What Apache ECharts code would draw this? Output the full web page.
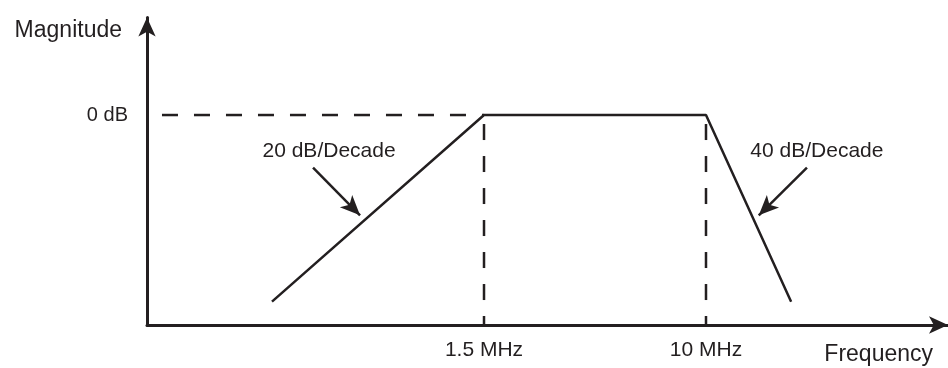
<!DOCTYPE html>
<html>
<head>
<meta charset="utf-8">
<script src="https://cdn.jsdelivr.net/npm/echarts@6/dist/echarts.min.js"></script>
<style>
  html, body { margin: 0; padding: 0; background: #fff; }
  #chart { width: 948px; height: 368px; }
</style>
</head>
<body>
<div id="chart"></div>
<script>
// frequency in MHz (log axis), magnitude in dB
const responseFreq = [0.245, 1.5, 10, 20.7]
const responseDb = [-16, 0, 0, -16]
const cornerFreq = [1.5, 10]
const cornerLabels = ['1.5 MHz', '10 MHz']
const refStartFreq = 0.0957 // 0 dB guide starts a little right of the axis
const slopeLabels = ['20 dB/Decade', '40 dB/Decade']
const slopeLabelFreq = [0.399, 25.8]
const slopeLabelDb = [-3.1, -3.1]
const arrowFrom = [[0.348, -4.5], [23.7, -4.5]]
const arrowTo = [[0.52, -8.6], [15.7, -8.6]]
const yTickLabels = { 0: '0 dB' }
const freqMin = 0.0842, freqMax = 79.1
const dbMin = -18, dbMax = 8.36

const ink = '#231f20'
const font = "'Liberation Sans', Arial, sans-serif"

var myChart = echarts.init(document.getElementById('chart'))

const dashed = {
  color: ink,
  width: 2.5,
  type: [16, 16]
}

let series = [
  // 响应曲线
  {
    type: 'line',
    data: responseFreq.map((f, i) => [f, responseDb[i]]),
    showSymbol: false,
    lineStyle: { color: ink, width: 2.5 },
    z: 5
  },
  // 0 dB 虚线
  {
    type: 'line',
    data: [[refStartFreq, 0], [cornerFreq[0], 0]],
    showSymbol: false,
    lineStyle: dashed
  }
]
cornerFreq.forEach((f) => {
  series.push({
    type: 'line',
    data: [[f, 0], [f, dbMin]],
    showSymbol: false,
    lineStyle: Object.assign({}, dashed, { dashOffset: 23 })
  })
})
// 频率标注
series.push({
  type: 'scatter',
  symbolSize: 0,
  itemStyle: { opacity: 1 },
  data: cornerFreq.map((f, i) => ({ name: cornerLabels[i], value: [f, dbMin] })),
  label: {
    show: true,
    position: 'bottom',
    distance: 15,
    formatter: '{b}',
    color: ink,
    fontFamily: font,
    fontSize: 21
  }
})
// 斜率标注 + 箭头
series.push({
  type: 'scatter',
  symbolSize: 0,
  itemStyle: { opacity: 1 },
  data: slopeLabels.map((s, i) => ({ name: s, value: [slopeLabelFreq[i], slopeLabelDb[i]] })),
  label: {
    show: true,
    position: 'inside',
    formatter: '{b}',
    color: ink,
    textBorderWidth: 0,
    fontFamily: font,
    fontSize: 21
  },
  markLine: {
    silent: true,
    symbol: ['none', 'arrow'],
    symbolSize: [13, 20],
    label: { show: false },
    lineStyle: { color: ink, width: 2.5, type: 'solid' },
    data: arrowFrom.map((p, i) => [{ coord: p }, { coord: arrowTo[i] }])
  }
})

let option = {
  animation: false,
  grid: { left: 147, right: 0, top: 17.5, bottom: 43 },
  xAxis: {
    type: 'log',
    min: freqMin,
    max: freqMax,
    name: 'Frequency',
    nameLocation: 'end',
    nameGap: 0,
    nameTextStyle: {
      color: ink, fontFamily: font, fontSize: 23,
      align: 'right', verticalAlign: 'top', padding: [18, 15, 0, 0]
    },
    axisLine: {
      onZero: false,
      symbol: ['none', 'arrow'],
      symbolSize: [13, 19],
      lineStyle: { color: ink, width: 3 }
    },
    axisTick: { show: false },
    axisLabel: { show: false },
    splitLine: { show: false }
  },
  yAxis: {
    type: 'value',
    min: dbMin,
    max: dbMax,
    interval: 2,
    name: 'Magnitude',
    nameLocation: 'end',
    nameGap: -13,
    nameTextStyle: {
      color: ink, fontFamily: font, fontSize: 23,
      align: 'right', verticalAlign: 'middle', padding: [0, 25, 0, 0]
    },
    axisLine: {
      show: true,
      onZero: false,
      symbol: ['none', 'arrow'],
      symbolSize: [13, 19],
      lineStyle: { color: ink, width: 3 }
    },
    axisTick: { show: false },
    axisLabel: {
      margin: 19,
      color: ink,
      fontFamily: font,
      fontSize: 20,
      formatter: (v) => yTickLabels[v] || ''
    },
    splitLine: { show: false }
  },
  series: series
}
myChart.setOption(option)
</script>
</body>
</html>
